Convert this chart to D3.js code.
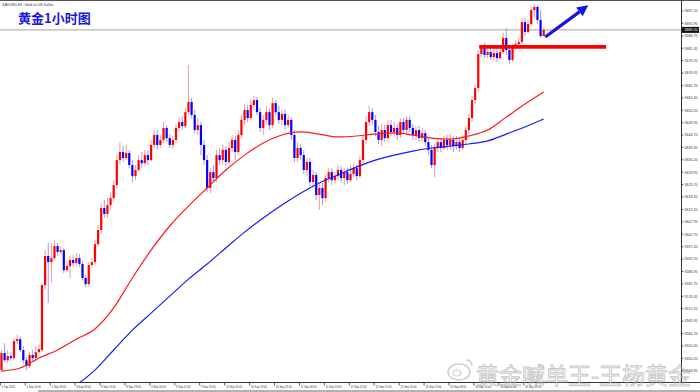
<!DOCTYPE html>
<html><head><meta charset="utf-8">
<script src="https://cdn.jsdelivr.net/npm/d3@7"></script>
<style>body{margin:0;background:#fff;overflow:hidden}svg{display:block}</style>
</head><body><svg id="c" width="700" height="392"></svg>
<script>
// ---- data (XAUUSD H1) ----
const openP = [3545.2,3552.4,3549.4,3551.1,3550.3,3557.5,3558.3,3553.7,3549.4,3546.9,3551.6,3550.3,3552.8,3553.7,3581.2,3593.5,3590.9,3592.6,3597.7,3595.2,
3596.0,3587.5,3589.2,3591.8,3590.5,3592.6,3590.1,3584.2,3581.6,3589.7,3590.9,3598.5,3604.5,3613.8,3611.3,3615.1,3618.0,3623.5,3634.1,3637.5,
3635.0,3637.1,3632.0,3627.3,3629.9,3634.1,3632.8,3636.2,3634.1,3640.5,3644.7,3640.5,3642.6,3647.7,3643.4,3640.5,3642.6,3647.7,3650.2,3648.5,
3654.4,3658.7,3653.2,3646.8,3648.9,3640.5,3634.1,3622.3,3629.0,3626.5,3636.2,3634.1,3638.4,3633.3,3639.2,3642.6,3637.5,3644.7,3651.1,3655.3,
3651.9,3657.4,3659.5,3654.4,3647.7,3651.1,3654.4,3648.9,3658.2,3654.4,3651.1,3653.6,3648.9,3651.1,3644.7,3635.0,3639.2,3636.2,3629.9,3633.3,
3624.8,3627.8,3619.3,3622.3,3618.0,3626.5,3629.0,3625.6,3627.3,3629.9,3626.5,3629.0,3625.6,3628.2,3630.7,3627.3,3634.1,3642.6,3650.2,3654.4,
3651.1,3646.0,3642.6,3646.8,3643.4,3648.9,3646.0,3647.7,3644.7,3650.2,3646.8,3651.1,3647.7,3644.7,3646.8,3643.4,3645.5,3641.7,3638.4,3632.0,
3639.2,3641.7,3639.2,3642.6,3640.5,3642.6,3640.0,3641.7,3639.2,3642.6,3646.8,3651.9,3659.5,3664.6,3679.0,3682.0,3678.6,3679.8,3677.7,3679.4,
3677.3,3679.8,3685.8,3680.7,3676.5,3681.5,3683.2,3684.1,3692.5,3688.3,3691.7,3697.6,3698.9,3693.4,3686.6];
const highP = [3553.7,3556.6,3553.7,3552.8,3558.8,3560.0,3559.6,3555.4,3550.7,3552.8,3553.7,3555.4,3556.2,3582.0,3596.0,3599.0,3599.0,3600.2,3599.0,3597.7,
3596.9,3591.8,3593.5,3593.9,3594.7,3594.3,3591.4,3585.4,3590.9,3592.6,3600.2,3606.6,3615.9,3617.2,3618.0,3620.6,3625.6,3636.2,3641.7,3640.0,
3640.5,3638.4,3634.1,3632.0,3636.2,3637.5,3638.4,3638.4,3642.6,3646.8,3646.8,3644.7,3650.2,3648.9,3645.1,3644.3,3649.4,3652.3,3652.7,3656.1,
3674.3,3660.4,3655.3,3651.9,3650.2,3642.6,3636.2,3630.7,3632.0,3638.4,3639.2,3640.5,3640.0,3641.7,3644.7,3644.3,3646.8,3653.2,3657.8,3657.4,
3659.9,3661.2,3660.8,3656.1,3653.2,3657.0,3656.1,3660.4,3659.5,3657.0,3655.3,3655.3,3653.2,3652.3,3646.8,3641.7,3640.9,3638.4,3635.0,3635.0,
3629.9,3629.0,3624.0,3624.4,3627.8,3630.7,3630.7,3629.0,3632.0,3631.6,3630.7,3630.7,3632.0,3632.8,3632.0,3636.2,3644.7,3652.7,3657.0,3656.1,
3653.2,3648.5,3649.4,3648.9,3651.1,3651.1,3650.2,3649.4,3651.9,3651.9,3652.7,3652.7,3649.4,3648.5,3648.5,3647.7,3646.8,3643.4,3640.5,3640.9,
3643.4,3643.4,3644.3,3644.7,3645.1,3644.3,3644.3,3643.4,3644.7,3648.5,3653.6,3661.2,3666.3,3680.7,3683.2,3683.7,3682.4,3682.4,3681.5,3682.0,
3681.5,3687.9,3690.0,3682.4,3683.2,3684.9,3685.8,3694.2,3694.2,3693.4,3698.9,3700.2,3699.7,3697.6,3690.4];
const lowP = [3544.4,3548.6,3548.2,3549.0,3549.4,3556.2,3552.8,3548.2,3545.2,3546.1,3549.0,3548.6,3552.0,3552.8,3579.1,3573.6,3582.0,3591.8,3593.5,3593.9,
3586.3,3586.7,3584.2,3589.2,3589.2,3588.8,3583.3,3580.3,3580.8,3588.4,3590.1,3597.3,3602.8,3609.6,3609.6,3613.0,3616.3,3622.3,3632.4,3633.3,
3634.1,3630.7,3624.8,3625.6,3629.0,3630.7,3631.6,3632.0,3633.3,3639.2,3638.4,3639.2,3641.3,3641.7,3639.2,3638.8,3641.3,3646.4,3646.8,3647.7,
3653.2,3651.9,3645.5,3644.7,3636.2,3632.0,3620.6,3620.1,3624.8,3624.8,3632.0,3632.0,3631.6,3632.0,3637.5,3634.1,3636.2,3643.4,3648.9,3650.2,
3651.1,3655.3,3653.2,3646.0,3644.7,3648.9,3646.8,3647.7,3652.7,3649.4,3648.9,3646.8,3647.7,3642.6,3633.3,3633.3,3634.1,3628.2,3627.3,3623.1,
3622.3,3617.2,3613.0,3615.1,3616.3,3624.8,3623.5,3624.0,3625.6,3624.8,3623.5,3624.0,3624.8,3626.5,3625.6,3626.5,3632.4,3640.9,3648.5,3648.9,
3644.3,3640.9,3640.0,3641.7,3641.7,3644.3,3644.3,3642.6,3643.4,3645.1,3645.1,3646.0,3642.6,3642.6,3641.7,3641.7,3640.0,3636.2,3630.7,3626.9,
3637.5,3637.5,3638.4,3638.4,3638.4,3637.5,3638.4,3637.5,3638.4,3640.5,3645.1,3650.2,3657.8,3662.9,3677.7,3677.3,3677.3,3676.5,3676.0,3675.6,
3676.5,3679.0,3678.6,3674.8,3675.6,3680.7,3682.0,3683.2,3686.6,3687.5,3690.9,3694.2,3691.7,3685.8,3686.6];
const closeP = [3552.4,3549.4,3551.1,3550.3,3557.5,3558.3,3553.7,3549.4,3546.9,3551.6,3550.3,3552.8,3554.1,3581.2,3593.5,3590.9,3592.6,3597.7,3595.2,3596.0,
3587.5,3589.2,3591.8,3590.5,3592.6,3590.1,3584.2,3581.6,3589.7,3590.9,3598.5,3604.5,3613.8,3611.3,3615.1,3618.0,3623.5,3634.1,3637.5,3635.0,
3637.1,3632.0,3627.3,3629.9,3634.1,3632.8,3636.2,3634.1,3640.5,3644.7,3640.5,3642.6,3647.7,3643.4,3640.5,3642.6,3647.7,3650.2,3648.5,3654.4,
3658.7,3653.2,3646.8,3648.9,3640.5,3634.1,3622.3,3629.0,3626.5,3636.2,3634.1,3638.4,3633.3,3639.2,3642.6,3637.5,3644.7,3651.1,3655.3,3651.9,
3657.4,3659.5,3654.4,3647.7,3651.1,3654.4,3648.9,3658.2,3654.4,3651.1,3653.6,3648.9,3651.1,3644.7,3635.0,3639.2,3636.2,3629.9,3633.3,3624.8,
3627.8,3619.3,3622.3,3618.0,3626.5,3629.0,3625.6,3627.3,3629.9,3626.5,3629.0,3625.6,3628.2,3630.7,3627.3,3634.1,3642.6,3650.2,3654.4,3651.1,
3646.0,3642.6,3646.8,3643.4,3648.9,3646.0,3647.7,3644.7,3650.2,3646.8,3651.1,3647.7,3644.7,3646.8,3643.4,3645.5,3641.7,3638.4,3632.0,3639.2,
3641.7,3639.2,3642.6,3640.5,3642.6,3640.0,3641.7,3639.2,3642.6,3646.8,3651.9,3659.5,3664.6,3679.0,3682.0,3678.6,3679.8,3677.7,3679.4,3677.3,
3679.8,3685.8,3680.7,3676.5,3681.5,3683.2,3684.1,3692.5,3688.3,3691.7,3697.6,3698.9,3693.4,3686.6,3689.2];

// moving averages (bar index -> value)
const maRedIdx = [0,6,12,18,24,30,36,42,48,54,60,66,72,78,84,90,96,102,108,114,120,126,132,138,144,150,156,162,168,174];
const maRedVal = [3544.8,3546.1,3550.3,3553.7,3558.3,3562.6,3571.5,3584.2,3596.0,3606.2,3614.6,3622.3,3629.9,3636.2,3641.3,3644.7,3646.0,3645.1,3643.9,3644.3,3645.1,3645.6,3644.7,3643.4,3643.0,3644.3,3646.8,3652.3,3657.8,3662.9];
const maBlueIdx = [24,30,36,42,48,54,60,66,72,78,84,90,96,102,108,114,120,126,132,138,144,150,156,162,168,174];
const maBlueVal = [3538.9,3545.2,3553.7,3562.1,3569.3,3576.5,3583.7,3590.1,3596.9,3603.6,3609.6,3615.1,3620.1,3624.4,3627.8,3631.2,3634.1,3636.2,3637.9,3639.2,3640.0,3640.9,3642.2,3645.1,3648.1,3651.5];

const xLabels = ["5 Sep 2025","5 Sep 10:00","5 Sep 18:00","8 Sep 03:00","8 Sep 11:00","8 Sep 19:00","9 Sep 04:00","9 Sep 12:00","9 Sep 20:00","10 Sep 05:00","10 Sep 13:00","10 Sep 21:00","11 Sep 06:00","11 Sep 14:00","11 Sep 22:00","12 Sep 07:00","12 Sep 15:00","12 Sep 23:00","15 Sep 08:00","15 Sep 16:00","16 Sep 01:00","16 Sep 09:00"];
const xLabelEvery = 8;
const yTickStart = 3544.95, yTickStep = 5.25, yTickCount = 30;

const supportLevel = 3682.0, supportFrom = 153.3, supportTo = 194.0;
const arrowFrom = [174.5, 3686.2], arrowTo = [188.3, 3699.6];
const title = "黄金1小时图";
const header = "XAUUSD,H1: Gold vs US Dollar";
const watermark = "黄金喊单王-王杨黄金";

// ---- drawing ----
const W = 700, H = 392, plotR = 681, plotB = 382.5;
const svg = d3.select("#c");
const x = d3.scaleLinear().domain([0, 168]).range([1.5, 525]);
const y = d3.scaleLinear().domain([3544.95, 3697.20]).range([370.7, 11]);
const tickFont = "Liberation Sans, Arial, sans-serif";

svg.append("defs").append("clipPath").attr("id","clip")
  .append("rect").attr("x",0).attr("y",1).attr("width",plotR).attr("height",plotB-1);
const g = svg.append("g").attr("clip-path","url(#clip)");

// current price line
const last = closeP[closeP.length-1];
g.append("line").attr("x1",0).attr("x2",plotR).attr("y1",y(last)).attr("y2",y(last))
  .attr("stroke","#b4b4b4").attr("stroke-width",1.3);

const idx = d3.range(closeP.length);
// wicks
g.selectAll("line.wick").data(idx).join("line").attr("class","wick")
  .attr("x1",i=>x(i)).attr("x2",i=>x(i))
  .attr("y1",i=>y(highP[i])).attr("y2",i=>y(lowP[i]))
  .attr("stroke",i=>closeP[i]>=openP[i]?"#f59a9a":"#9d9df2").attr("stroke-width",1);
// bodies
g.selectAll("rect.body").data(idx).join("rect").attr("class","body")
  .attr("x",i=>x(i)-1.1).attr("width",2.2)
  .attr("y",i=>y(Math.max(openP[i],closeP[i])))
  .attr("height",i=>Math.max(1,Math.abs(y(openP[i])-y(closeP[i]))))
  .attr("fill",i=>closeP[i]>=openP[i]?"#ff0000":"#0000ff");

// moving averages
const line = d3.line().curve(d3.curveMonotoneX);
g.append("path").attr("d",line(maRedIdx.map((d,k)=>[x(d),y(maRedVal[k])])))
  .attr("fill","none").attr("stroke","#ff1a1a").attr("stroke-width",1.2);
g.append("path").attr("d",line(maBlueIdx.map((d,k)=>[x(d),y(maBlueVal[k])])))
  .attr("fill","none").attr("stroke","#1a1aff").attr("stroke-width",1.2);

// support line
g.append("line").attr("x1",x(supportFrom)).attr("x2",x(supportTo))
  .attr("y1",y(supportLevel)).attr("y2",y(supportLevel))
  .attr("stroke","#ff0000").attr("stroke-width",3.6);

// arrow
const ax1=x(arrowFrom[0]), ay1=y(arrowFrom[1]), ax2=x(arrowTo[0]), ay2=y(arrowTo[1]);
const ang = Math.atan2(ay2-ay1, ax2-ax1), hl = 11, hw = 5.5;
const bx = ax2 - hl*Math.cos(ang), by = ay2 - hl*Math.sin(ang);
g.append("line").attr("x1",ax1).attr("y1",ay1).attr("x2",bx).attr("y2",by)
  .attr("stroke","#1414e6").attr("stroke-width",3.2);
g.append("path").attr("d",`M${ax2},${ay2}L${bx - hw*Math.sin(ang)},${by + hw*Math.cos(ang)}L${bx + hw*Math.sin(ang)},${by - hw*Math.cos(ang)}Z`)
  .attr("fill","#1414e6");

// frame
svg.append("line").attr("x1",0).attr("x2",W).attr("y1",0.5).attr("y2",0.5).attr("stroke","#555").attr("stroke-width",1);
svg.append("line").attr("x1",plotR+0.5).attr("x2",plotR+0.5).attr("y1",0).attr("y2",plotB).attr("stroke","#333");
svg.append("line").attr("x1",0).attr("x2",W).attr("y1",plotB).attr("y2",plotB).attr("stroke","#333");
svg.append("line").attr("x1",38).attr("x2",W).attr("y1",391).attr("y2",391).attr("stroke","#666");

// y axis
const yTicks = d3.range(yTickCount).map(k=>yTickStart+k*yTickStep);
const ya = svg.append("g").attr("font-family",tickFont).attr("font-size",3.6).attr("fill","#333");
yTicks.forEach(v=>{
  ya.append("line").attr("x1",plotR).attr("x2",plotR+2.5).attr("y1",y(v)).attr("y2",y(v)).attr("stroke","#333").attr("stroke-width",0.8);
  ya.append("text").attr("x",plotR+3.5).attr("y",y(v)+1.3).text(v.toFixed(2));
});
// current price box
svg.append("rect").attr("x",plotR+1).attr("y",y(last)-3).attr("width",W-plotR-2).attr("height",6).attr("fill","#111");
svg.append("text").attr("x",plotR+3.5).attr("y",y(last)+1.3).attr("font-family",tickFont)
  .attr("font-size",3.6).attr("fill","#fff").text(last.toFixed(2));

// x axis
const xa = svg.append("g").attr("font-family",tickFont).attr("font-size",2.7).attr("fill","#333");
xLabels.forEach((t,k)=>{
  const xx = x(k*xLabelEvery)-1.2;
  xa.append("line").attr("x1",xx).attr("x2",xx).attr("y1",plotB).attr("y2",plotB+3).attr("stroke","#333").attr("stroke-width",0.8);
  xa.append("text").attr("x",xx+1.3).attr("y",plotB+5.4).text(t);
});

// header + title
svg.append("text").attr("x",2).attr("y",5.5).attr("font-family",tickFont).attr("font-size",3.6).attr("fill","#333").text(header);
svg.append("text").attr("x",18).attr("y",22.5).attr("font-family","Noto Sans CJK SC, sans-serif").attr("font-weight","bold")
  .attr("font-size",13).attr("fill","#1a1ad8").text(title);

// watermark
const wm = svg.append("g").attr("opacity",0.55);
wm.append("ellipse").attr("cx",459).attr("cy",372).attr("rx",11).attr("ry",8).attr("fill","none").attr("stroke","#aaa").attr("stroke-width",1.6);
wm.append("ellipse").attr("cx",457).attr("cy",373).attr("rx",4).attr("ry",3).attr("fill","none").attr("stroke","#aaa").attr("stroke-width",1.2);
wm.append("path").attr("d","M466,360 Q472,360 472,366").attr("fill","none").attr("stroke","#aaa").attr("stroke-width",1.4);
wm.append("text").attr("x",476).attr("y",384).attr("font-family","Noto Sans CJK SC, sans-serif").attr("font-size",23)
  .attr("fill","#fff").attr("stroke","#9a9a9a").attr("stroke-width",0.9).text(watermark);
</script></body></html>
